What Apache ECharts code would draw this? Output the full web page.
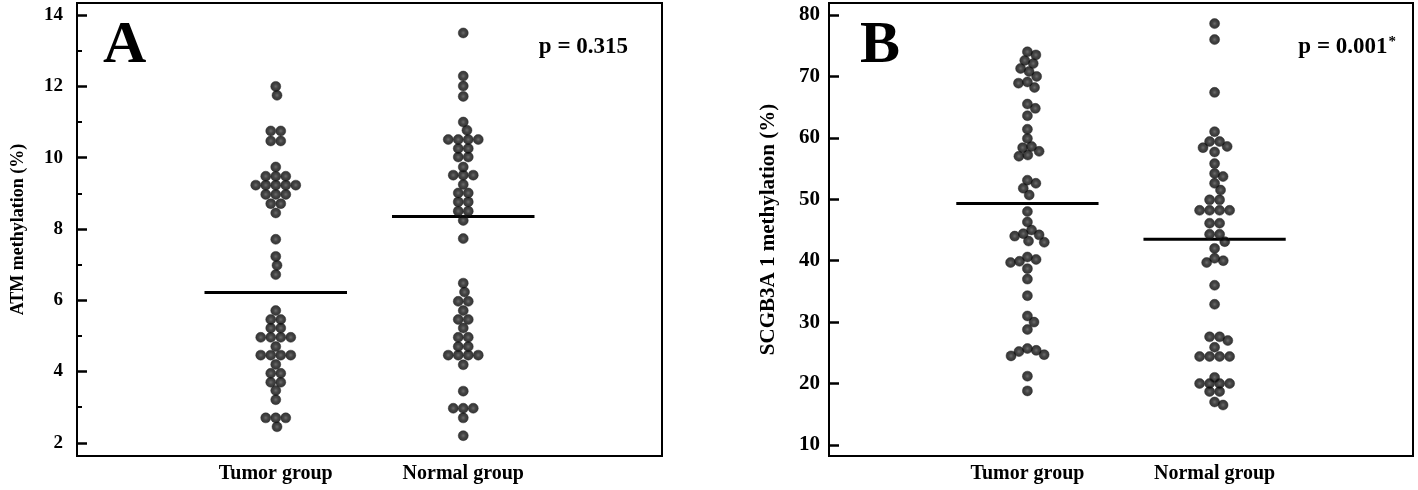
<!DOCTYPE html>
<html><head><meta charset="utf-8">
<script src="https://cdn.jsdelivr.net/npm/echarts@6/dist/echarts.min.js"></script>
<style>html,body{margin:0;padding:0;background:#fff}#c{width:1418px;height:490px}</style>
</head><body><div id="c"></div>
<script>
// ---------- data ----------
const categories = ['Tumor group', 'Normal group'];
const panelLetters = ['A', 'B'];
const yNames = ['ATM methylation (%)', 'SCGB3A 1 methylation (%)'];
const pLabels = ['p = 0.315', 'p = 0.001'];

const atmTumor = [12.0, 11.75, 10.75, 10.75, 10.47, 10.47, 9.74, 9.48, 9.48, 9.48, 9.23, 9.23, 9.23, 9.23, 9.23,
  8.97, 8.97, 8.97, 8.71, 8.71, 8.45, 7.71, 7.23, 6.98, 6.72, 5.71, 5.46, 5.46, 5.22, 5.22,
  4.96, 4.96, 4.96, 4.96, 4.70, 4.46, 4.46, 4.46, 4.46, 4.20, 3.95, 3.95, 3.70, 3.70, 3.47, 3.21,
  2.70, 2.70, 2.70, 2.45];
const atmNormal = [13.5, 12.29, 12.01, 11.72, 11.0, 10.77, 10.51, 10.51, 10.51, 10.51, 10.26, 10.26, 10.02, 10.02,
  9.74, 9.51, 9.51, 9.51, 9.25, 9.01, 9.01, 8.76, 8.76, 8.50, 8.50, 8.24, 7.73, 6.48, 6.23, 5.97, 5.97,
  5.71, 5.46, 5.46, 5.22, 4.96, 4.96, 4.70, 4.70, 4.46, 4.46, 4.46, 4.46, 4.19, 3.45, 2.97, 2.97, 2.97,
  2.70, 2.20];
const atmMeans = [6.22, 8.35];
const atmTicks = [2, 4, 6, 8, 10, 12, 14];
const atmMinorTicks = [3, 5, 7, 9, 11, 13];

const scgbTumor = [74.0, 73.5, 72.6, 72.1, 71.3, 70.8, 70.0, 69.1, 68.9, 68.2, 65.5, 64.8, 63.6, 61.4, 59.9,
  58.6, 58.4, 57.8, 57.2, 57.0, 53.1, 52.6, 51.8, 50.7, 48.0, 46.3, 45.0, 44.4, 44.2, 44.0, 43.2, 43.0,
  40.6, 40.2, 39.9, 39.7, 38.7, 37.0, 34.3, 31.0, 30.0, 28.8, 25.7, 25.4, 25.2, 24.7, 24.5, 21.2, 18.8];
const scgbNormal = [78.6, 76.0, 67.4, 61.0, 59.4, 59.4, 58.6, 58.4, 57.7, 55.8, 54.2, 53.7, 52.6, 51.5,
  49.9, 49.9, 48.2, 48.2, 48.2, 48.2, 46.1, 46.1, 44.3, 44.3, 43.1, 42.0, 40.4, 40.0, 39.7, 36.0, 32.9,
  27.6, 27.6, 27.0, 25.9, 24.4, 24.4, 24.4, 24.4, 21.0, 20.0, 20.0, 20.0, 20.0, 18.7, 18.7, 17.0, 16.5];
const scgbMeans = [49.3, 43.5];
const scgbTicks = [10, 20, 30, 40, 50, 60, 70, 80];

// ---------- styling ----------
const FONT = '"Liberation Serif", "Times New Roman", serif';
const DOT = 10, MIN_DIST = 9, ROW_STEP = 10, HALF = 0.38;
const dotColor = {type: 'radial', x: 0.5, y: 0.5, r: 0.5, colorStops: [
  {offset: 0, color: '#464646'}, {offset: 0.45, color: '#161616'}, {offset: 1, color: '#000'}]};

const chart = echarts.init(document.getElementById('c'), null, {renderer: 'canvas'});

function grid(left, right, show) {
  return {left, right, top: 3, bottom: 34, show, borderColor: '#000', borderWidth: 2,
    backgroundColor: 'transparent', outerBoundsMode: 'none'};
}
function xAxis(gi, show) {
  return {type: 'value', gridIndex: gi, min: -0.06, max: 3.06, show, position: 'bottom',
    axisLine: {show: true, onZero: false, lineStyle: {color: '#000', width: 2}},
    axisTick: {show: false}, splitLine: {show: false},
    axisLabel: {customValues: [1, 2], formatter: v => categories[Math.round(v) - 1] || '',
      color: '#000', fontFamily: FONT, fontWeight: 'bold', fontSize: 20, margin: 8}};
}
function yAxis(gi, min, max, ticks, fs, name, nameSize, nameGap, labMargin) {
  return {type: 'value', gridIndex: gi, min, max, position: 'left',
    name, nameLocation: 'middle', nameRotate: 90, nameGap,
    nameTextStyle: {color: '#000', fontFamily: FONT, fontWeight: 'bold', fontSize: nameSize},
    axisLine: {show: true, onZero: false, lineStyle: {color: '#000', width: 2}},
    axisTick: {show: true, inside: true, length: 10, customValues: ticks, lineStyle: {color: '#000', width: 2.5}},
    splitLine: {show: false},
    axisLabel: {customValues: ticks, color: '#000', fontFamily: FONT, fontWeight: 'bold', fontSize: fs, margin: labMargin}};
}
function minorAxis(gi, min, max, ticks) {
  return {type: 'value', gridIndex: gi, min, max, position: 'left',
    axisLine: {show: false, onZero: false}, splitLine: {show: false}, axisLabel: {show: false},
    axisTick: {show: true, inside: true, length: 5, customValues: ticks, lineStyle: {color: '#000', width: 2}}};
}
function dots(data, xi, yi) {
  return {type: 'scatter', xAxisIndex: xi, yAxisIndex: yi, data, symbolSize: DOT, z: 3,
    itemStyle: {color: dotColor, borderColor: '#2a2a2a', borderWidth: 0.6}, silent: true};
}
function meanLine(m, pos, xi, yi) {
  return {type: 'line', xAxisIndex: xi, yAxisIndex: yi, data: [[pos - HALF, m], [pos + HALF, m]],
    symbol: 'none', lineStyle: {color: '#000', width: 3}, z: 2, silent: true};
}

const groupsA = [atmTumor, atmNormal], groupsB = [scgbTumor, scgbNormal];

function buildSeries(layout) {
  const s = [];
  groupsA.forEach((g, i) => s.push(dots(layout ? layout[0][i] : g.map(v => [i + 1, v]), 0, 0)));
  atmMeans.forEach((m, i) => s.push(meanLine(m, i + 1, 0, 0)));
  groupsB.forEach((g, i) => s.push(dots(layout ? layout[1][i] : g.map(v => [i + 1, v]), 1, 1)));
  scgbMeans.forEach((m, i) => s.push(meanLine(m, i + 1, 1, 1)));
  return s;
}

const option = {
  animation: false,
  backgroundColor: '#fff',
  grid: [grid(77, 1418 - 662, true), grid(829, 5, true), grid(77, 1418 - 662, false)],
  xAxis: [xAxis(0, true), xAxis(1, true), xAxis(2, false)],
  yAxis: [
    yAxis(0, 1.63, 14.34, atmTicks, 19, yNames[0], 18, 50, 14),
    yAxis(1, 8.2, 81.95, scgbTicks, 21, yNames[1], 21, 50, 9),
    minorAxis(2, 1.63, 14.34, atmMinorTicks)
  ],
  graphic: [
    {type: 'text', left: 103, top: 16, style: {text: panelLetters[0], font: 'bold 60px ' + FONT, fill: '#000'}},
    {type: 'text', left: 860, top: 16, style: {text: panelLetters[1], font: 'bold 60px ' + FONT, fill: '#000'}},
    {type: 'text', right: 1418 - 628, top: 36, style: {text: pLabels[0], font: 'bold 23px ' + FONT, fill: '#000'}},
    {type: 'text', right: 22, top: 35, style: {text: '{a|' + pLabels[1] + '}{s|*}', fill: '#000',
      rich: {a: {font: 'bold 23px ' + FONT, fill: '#000'},
             s: {font: 'bold 15px ' + FONT, fill: '#000', verticalAlign: 'top', padding: [0, 0, 10, 1]}}}}
  ],
  series: buildSeries(null)
};
chart.setOption(option);

// beeswarm / dot-plot layout computed in pixel space via the chart's own scales
function swarm(values, gi, pos) {
  const px0 = chart.convertToPixel({gridIndex: gi}, [0, 0])[0];
  const px1 = chart.convertToPixel({gridIndex: gi}, [1, 0])[0];
  const unit = px1 - px0;
  const counts = new Map();
  values.forEach(v => counts.set(v, (counts.get(v) || 0) + 1));
  const uniq = [...counts.keys()].sort((a, b) => b - a);
  const placed = [];
  uniq.forEach(v => {
    const n = counts.get(v);
    const py = chart.convertToPixel({gridIndex: gi}, [pos, v])[1];
    if (n > 1) {
      for (let i = 0; i < n; i++) placed.push({v, py, dx: (i - (n - 1) / 2) * ROW_STEP});
    } else {
      const iv = [];
      placed.forEach(p => {
        const dy = Math.abs(p.py - py);
        if (dy < MIN_DIST) {
          const h = Math.sqrt(MIN_DIST * MIN_DIST - dy * dy);
          iv.push([p.dx - h, p.dx + h]);
        }
      });
      const cands = [0];
      iv.forEach(([a, b]) => cands.push(a, b));
      cands.sort((a, b) => Math.abs(a) - Math.abs(b) || b - a);
      let dx = 0;
      for (const c of cands) {
        if (!iv.some(([a, b]) => c > a + 1e-6 && c < b - 1e-6)) { dx = c; break; }
      }
      placed.push({v, py, dx});
    }
  });
  return placed.map(p => [pos + p.dx / unit, p.v]);
}

const layout = [
  groupsA.map((g, i) => swarm(g, 0, i + 1)),
  groupsB.map((g, i) => swarm(g, 1, i + 1))
];
chart.setOption({series: buildSeries(layout)});
</script>
</body></html>
